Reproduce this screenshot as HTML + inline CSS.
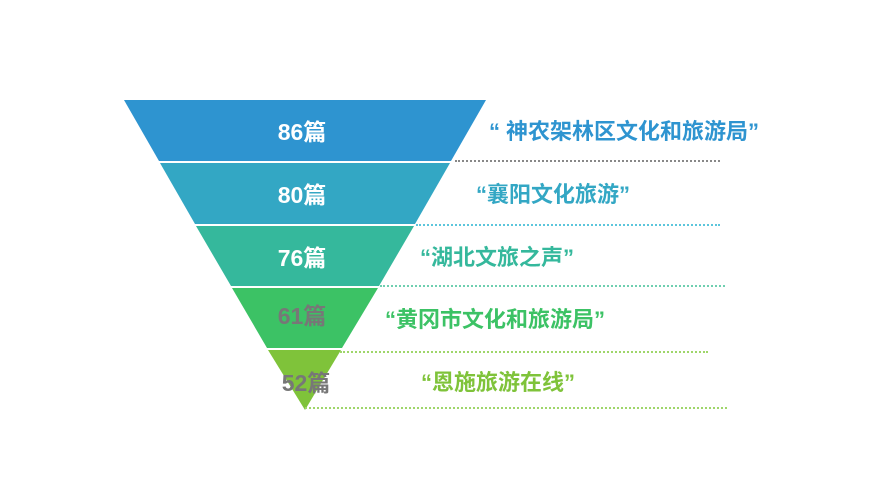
<!DOCTYPE html><html><head><meta charset="utf-8"><style>
body{margin:0;width:881px;height:502px;background:#fff;position:relative;overflow:hidden;font-family:"Liberation Sans","Noto Sans CJK SC",sans-serif;font-weight:bold}
.t{position:absolute;font-size:22px;white-space:nowrap;transform:translate(-50%,-50%)}
.n{font-size:23px}
.l{position:absolute;height:0;border-top:2px dotted}
</style></head><body>
<svg width="881" height="502" style="position:absolute;left:0;top:0">
<polygon points="124,100 486,100 451,161 159,161" fill="#2e94d0"/>
<polygon points="160,163 450,163 415,224 195,224" fill="#33a7c4"/>
<polygon points="196,226 414,226 379,286 231,286" fill="#35b89c"/>
<polygon points="232,288 378,288 342,348 267,348" fill="#3cc265"/>
<polygon points="268,350 341,350 305,410" fill="#7fc33a"/>
</svg>
<div class="l" style="left:455px;top:160px;width:265px;border-color:#888"></div>
<div class="l" style="left:416px;top:224px;width:304px;border-color:#5cc6dc"></div>
<div class="l" style="left:380px;top:285px;width:345px;border-color:#6fcfb0"></div>
<div class="l" style="left:340px;top:351px;width:368px;border-color:#9fd66a"></div>
<div class="l" style="left:305px;top:407px;width:422px;border-color:#9fd66a"></div>
<div class="t n" style="left:302px;top:130px;color:#fff">86篇</div>
<div class="t n" style="left:302px;top:193px;color:#fff">80篇</div>
<div class="t n" style="left:302px;top:256px;color:#fff">76篇</div>
<div class="t n" style="left:302px;top:314px;color:#777">61篇</div>
<div class="t n" style="left:306px;top:381px;color:#777">52篇</div>
<div class="t" style="left:624px;top:130px;color:#2e94d0">“ 神农架林区文化和旅游局”</div>
<div class="t" style="left:553px;top:193px;color:#33a7c4">“襄阳文化旅游”</div>
<div class="t" style="left:497px;top:256px;color:#35b89c">“湖北文旅之声”</div>
<div class="t" style="left:495px;top:318px;color:#3cc265">“黄冈市文化和旅游局”</div>
<div class="t" style="left:498px;top:381px;color:#7fc33a">“恩施旅游在线”</div>
</body></html>
